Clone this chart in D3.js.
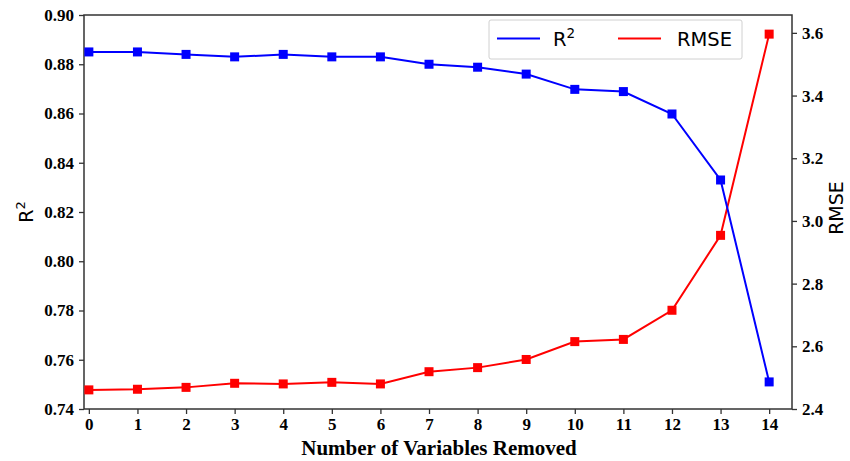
<!DOCTYPE html>
<html>
<head>
<meta charset="utf-8">
<script src="https://cdn.jsdelivr.net/npm/d3@7"></script>
<style>
  html, body { margin: 0; padding: 0; background: #fff; }
  svg { display: block; }
</style>
</head>
<body>
<svg id="chart" width="850" height="461"></svg>
<script>
const categories = [0, 1, 2, 3, 4, 5, 6, 7, 8, 9, 10, 11, 12, 13, 14];
const r2Values = [0.885, 0.885, 0.884, 0.883, 0.884, 0.883, 0.883, 0.880, 0.8788, 0.876, 0.8698, 0.8689, 0.8598, 0.833, 0.751];
const rmseValues = [2.461, 2.463, 2.469, 2.482, 2.480, 2.485, 2.480, 2.519, 2.532, 2.558, 2.615, 2.622, 2.715, 2.954, 3.596];
const leftTicks = [0.74, 0.76, 0.78, 0.80, 0.82, 0.84, 0.86, 0.88, 0.90];
const rightTicks = [2.4, 2.6, 2.8, 3.0, 3.2, 3.4, 3.6];
const xLabel = "Number of Variables Removed";

const svg = d3.select("#chart");
const L = 84, R = 792, T = 15, B = 409;

const x = d3.scaleLinear().domain([-0.1, 14.47]).range([L, R]);
const yL = d3.scaleLinear().domain([0.74, 0.90]).range([B, T]);
const yR = d3.scaleLinear().domain([2.4, 3.657]).range([B, T]);

const tickFont = "'Liberation Serif', 'Times New Roman', serif";
const sansFont = "'DejaVu Sans', sans-serif";

function styleAxis(g) {
  g.select(".domain").remove();
  g.selectAll(".tick line").attr("stroke", "#333").attr("stroke-width", 1.3);
  g.selectAll(".tick text")
    .attr("font-family", tickFont)
    .attr("font-weight", "bold")
    .attr("font-size", 17)
    .attr("fill", "#000");
}

// axes
const gx = svg.append("g").attr("transform", `translate(0,${B})`)
  .call(d3.axisBottom(x).tickValues(categories).tickFormat(d3.format("d")).tickSize(5).tickPadding(4));
styleAxis(gx);

const gl = svg.append("g").attr("transform", `translate(${L},0)`)
  .call(d3.axisLeft(yL).tickValues(leftTicks).tickFormat(d3.format(".2f")).tickSize(5).tickPadding(5));
styleAxis(gl);

const gr = svg.append("g").attr("transform", `translate(${R},0)`)
  .call(d3.axisRight(yR).tickValues(rightTicks).tickFormat(d3.format(".1f")).tickSize(5).tickPadding(5));
styleAxis(gr);

// frame
svg.append("rect")
  .attr("x", L).attr("y", T).attr("width", R - L).attr("height", B - T)
  .attr("fill", "none").attr("stroke", "#333").attr("stroke-width", 1.5);

// lines
const lineR2 = d3.line().x((d, i) => x(categories[i])).y(d => yL(d));
const lineRM = d3.line().x((d, i) => x(categories[i])).y(d => yR(d));
const ms = 9;

svg.append("path").datum(rmseValues).attr("d", lineRM)
  .attr("fill", "none").attr("stroke", "#ff0000").attr("stroke-width", 2);
svg.append("g").selectAll("rect").data(rmseValues).join("rect")
  .attr("x", (d, i) => x(categories[i]) - ms / 2)
  .attr("y", d => yR(d) - ms / 2)
  .attr("width", ms).attr("height", ms).attr("fill", "#ff0000");

svg.append("path").datum(r2Values).attr("d", lineR2)
  .attr("fill", "none").attr("stroke", "#0000ff").attr("stroke-width", 2);
svg.append("g").selectAll("rect").data(r2Values).join("rect")
  .attr("x", (d, i) => x(categories[i]) - ms / 2)
  .attr("y", d => yL(d) - ms / 2)
  .attr("width", ms).attr("height", ms).attr("fill", "#0000ff");

// axis titles
svg.append("text")
  .attr("x", (L + R) / 2 + 1).attr("y", 455)
  .attr("text-anchor", "middle")
  .attr("font-family", tickFont).attr("font-weight", "bold").attr("font-size", 21)
  .text(xLabel);

const r2Label = svg.append("text")
  .attr("transform", `translate(33,${(T + B) / 2}) rotate(-90)`)
  .attr("text-anchor", "middle")
  .attr("font-family", sansFont).attr("font-size", 19);
r2Label.append("tspan").text("R");
r2Label.append("tspan").attr("font-size", 13).attr("dy", -8).text("2");

svg.append("text")
  .attr("transform", `translate(843,${(T + B) / 2 - 4}) rotate(-90)`)
  .attr("text-anchor", "middle")
  .attr("font-family", sansFont).attr("font-size", 19)
  .text("RMSE");

// legend
const lg = svg.append("g");
lg.append("rect")
  .attr("x", 489).attr("y", 20).attr("width", 253).attr("height", 39).attr("rx", 2)
  .attr("fill", "#fff").attr("fill-opacity", 0.85).attr("stroke", "#d0d0d0").attr("stroke-width", 1);
lg.append("line").attr("x1", 497).attr("x2", 540).attr("y1", 38.5).attr("y2", 38.5)
  .attr("stroke", "#0000ff").attr("stroke-width", 2);
const lt1 = lg.append("text").attr("x", 553).attr("y", 46)
  .attr("font-family", sansFont).attr("font-size", 19.5).attr("fill", "#000");
lt1.append("tspan").text("R");
lt1.append("tspan").attr("font-size", 13.5).attr("dy", -8).text("2");
lg.append("line").attr("x1", 618).attr("x2", 661).attr("y1", 38.5).attr("y2", 38.5)
  .attr("stroke", "#ff0000").attr("stroke-width", 2);
lg.append("text").attr("x", 677).attr("y", 46)
  .attr("font-family", sansFont).attr("font-size", 19.5).attr("fill", "#000")
  .text("RMSE");
</script>
</body>
</html>
